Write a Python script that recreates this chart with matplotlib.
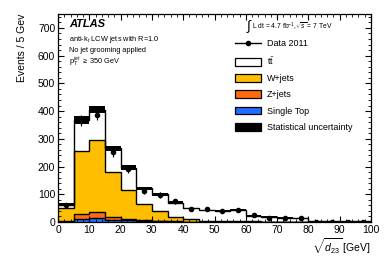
import numpy as np
import matplotlib
matplotlib.use("Agg")
import matplotlib.pyplot as plt
from matplotlib.patches import Patch
from matplotlib.lines import Line2D
from matplotlib.ticker import MultipleLocator

plt.rcParams['font.family'] = ['Liberation Sans', 'DejaVu Sans']
plt.rcParams['mathtext.fontset'] = 'custom'
plt.rcParams['mathtext.rm'] = 'Liberation Sans'
plt.rcParams['mathtext.it'] = 'Liberation Sans:italic'

# ---- data (5 GeV bins, 0-100 GeV) ----
bin_edges = np.arange(0, 105, 5)
single_top = [1, 12, 13, 9, 7, 3, 2, 1, 1, 0.5, 0.5, 0.3, 0.3, 0.2, 0.2, 0.1, 0.1, 0.1, 0.1, 0.1]
z_jets = [2, 18, 22, 8, 5, 3, 1, 1, 0.5, 0.5, 0.3, 0.3, 0.2, 0.2, 0.1, 0.1, 0.1, 0.0, 0.0, 0.0]
w_jets = [47, 226, 261, 162, 104, 60, 35, 16, 8.5, 4, 2.2, 2.4, 1.5, 1.1, 0.7, 0.8, 0.3, 0.4, 0.2, 0.2]
ttbar = [13, 112, 109, 87, 80, 56, 62, 52, 39, 37, 37, 40, 21, 16.5, 14, 13, 3.5, 2.5, 1.7, 1.7]
stat_unc = [7, 13, 13, 9, 8, 6, 5, 4, 3, 3, 3, 3, 2, 2, 2, 2, 1, 1, 1, 1]
data_2011 = [62, 365, 386, 252, 192, 110, 98, 74, 47, 46, 38, 44, 25, 14, 14, 16, 0, 1, 0, 1]

labels = ['Data 2011', r'$\mathregular{t\bar{t}}$', 'W+jets', 'Z+jets', 'Single Top', 'Statistical uncertainty']
colors = {'ttbar': 'white', 'w': '#FFBF00', 'z': '#FF6A10', 'st': '#1F6EFF'}

fig = plt.figure(figsize=(3.9, 2.65), dpi=100)
ax = fig.add_axes([58/390, 43/265, 313/390, 208/265])

st = np.array(single_top)
zc = st + np.array(z_jets)
wc = zc + np.array(w_jets)
tot = wc + np.array(ttbar)

ax.stairs(tot, bin_edges, baseline=wc, fill=True, facecolor=colors['ttbar'], edgecolor='none')
ax.stairs(wc, bin_edges, baseline=zc, fill=True, facecolor=colors['w'], edgecolor='none')
ax.stairs(zc, bin_edges, baseline=st, fill=True, facecolor=colors['z'], edgecolor='none')
ax.stairs(st, bin_edges, baseline=0, fill=True, facecolor=colors['st'], edgecolor='none')
for c in (tot, wc, zc, st):
    ax.stairs(c, bin_edges, baseline=None, color='black', lw=1.0)

# stat uncertainty band
err = np.array(stat_unc)
ax.bar(bin_edges[:-1], 2*err, bottom=tot-err, width=5, align='edge', color='black', lw=0)

centers = 0.5*(bin_edges[:-1] + bin_edges[1:])
d = np.array(data_2011, dtype=float)
ax.errorbar(centers, d, yerr=np.sqrt(d), fmt='o', color='black', ms=3, lw=0.8, capsize=0)

ax.set_xlim(0, 100)
ax.set_ylim(0, 750)
ax.xaxis.set_major_locator(MultipleLocator(10))
ax.xaxis.set_minor_locator(MultipleLocator(2))
ax.yaxis.set_major_locator(MultipleLocator(100))
ax.yaxis.set_minor_locator(MultipleLocator(20))
ax.tick_params(which='both', direction='in', top=True, right=True, labelsize=7.5, pad=2)
ax.tick_params(which='major', length=4.5, width=0.8)
ax.tick_params(which='minor', length=2.2, width=0.6)
for s in ax.spines.values():
    s.set_linewidth(0.9)

ax.set_ylabel('Events / 5 Gev', fontsize=7.5, loc='top', labelpad=8)
ax.set_xlabel(r'$\sqrt{d_{23}}$ [GeV]', fontsize=7.5, loc='right', labelpad=1)

# ATLAS labels
ax.text(0.035, 0.978, 'ATLAS', transform=ax.transAxes, fontsize=8, fontweight='bold', fontstyle='italic', va='top')
ax.text(0.035, 0.876, r'anti-k$_t$ LCW jets with R=1.0', transform=ax.transAxes, fontsize=5.3, va='center')
ax.text(0.035, 0.826, 'No jet grooming applied', transform=ax.transAxes, fontsize=5.3, va='center')
ax.text(0.035, 0.768, r'p$_T^{jet}$ $\geq$ 350 GeV', transform=ax.transAxes, fontsize=5.3, va='center')

# luminosity
fig.text(246/390, 1-27/265, r'$\int$', fontsize=10, va='center', ha='left')
fig.text(252/390, 1-27/265, r'L dt = 4.7 fb$^{-1}$,$\sqrt{s}$ = 7 TeV', fontsize=4.9, va='center', ha='left')

handles = [
    Line2D([0], [0], color='black', marker='o', ms=3, lw=1),
    Patch(facecolor=colors['ttbar'], edgecolor='black', lw=0.9),
    Patch(facecolor=colors['w'], edgecolor='black', lw=0.9),
    Patch(facecolor=colors['z'], edgecolor='black', lw=0.9),
    Patch(facecolor=colors['st'], edgecolor='black', lw=0.9),
    Patch(facecolor='black', edgecolor='black', lw=0.9),
]
ax.legend(handles, labels, loc='upper left', bbox_to_anchor=(235/390, 1-39/265),
          bbox_transform=fig.transFigure, frameon=False, fontsize=6.5,
          handlelength=2.9, handleheight=0.95, labelspacing=0.8, handletextpad=0.6,
          borderpad=0, borderaxespad=0)

fig.savefig('out.png', dpi=100)
